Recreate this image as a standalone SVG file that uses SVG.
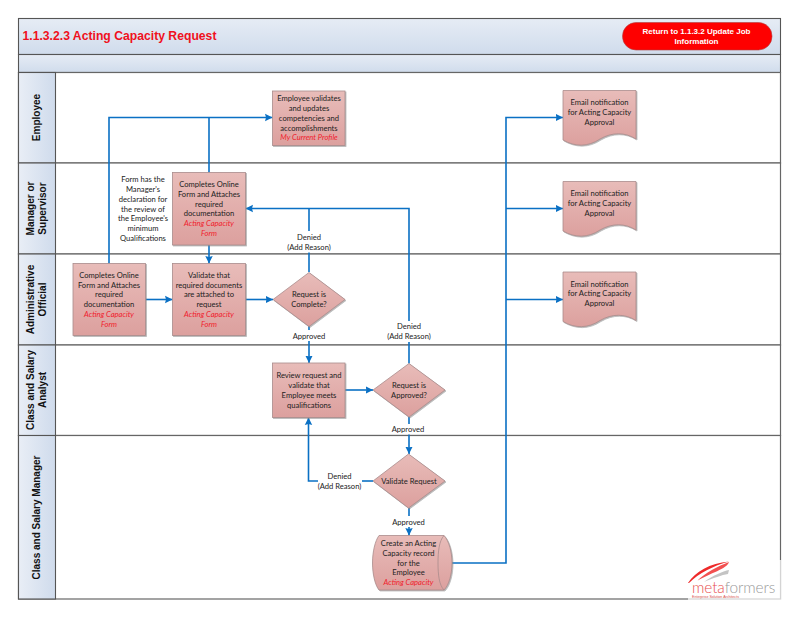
<svg xmlns="http://www.w3.org/2000/svg" width="800" height="618" viewBox="0 0 800 618">
<style>
.band{fill:url(#bandG);stroke:#555;stroke-width:1.1}
.hdr{fill:url(#hdrG);stroke:#555;stroke-width:1.1}
.lane{fill:#fff;stroke:#666;stroke-width:1.2}
.shape{fill:url(#nodeG);stroke:#a98c8c;stroke-width:.8;filter:url(#sh)}
.t{font:7.6px Lato,"Open Sans",sans-serif;fill:#222;text-anchor:middle}
.r{font:italic 7.6px Lato,"Open Sans",sans-serif;fill:#f01c2c;text-anchor:middle}
.lh{font:bold 10px "Liberation Sans",Arial,sans-serif;fill:#111;text-anchor:middle}
.c{fill:none;stroke:#0a70c4;stroke-width:1.6}
</style>
<defs>
<linearGradient id="bandG" x1="0" y1="0" x2="0" y2="1"><stop offset="0" stop-color="#e6ecf5"/><stop offset="1" stop-color="#d0dcec"/></linearGradient>
<linearGradient id="hdrG" x1="0" y1="0" x2="1" y2="0"><stop offset="0" stop-color="#e9eef6"/><stop offset="1" stop-color="#cfdbec"/></linearGradient>
<linearGradient id="nodeG" x1="0" y1="0" x2="0" y2="1"><stop offset="0" stop-color="#e8bcb9"/><stop offset="1" stop-color="#dca09e"/></linearGradient>
<filter id="sh" x="-10%" y="-10%" width="125%" height="125%"><feDropShadow dx="1" dy="1" stdDeviation=".6" flood-color="#888" flood-opacity=".6"/></filter>
<marker id="ah" markerUnits="userSpaceOnUse" markerWidth="9" markerHeight="9" refX="7.5" refY="4.5" orient="auto"><path d="M0 .8L7.5 4.5L0 8.2L1 4.5Z" fill="#0a70c4"/></marker>
</defs>
<rect width="800" height="618" fill="#fff"/>
<g id="frame">
<rect class="band" x="18.5" y="18.5" width="762" height="36"/>
<rect class="band" x="18.5" y="54.5" width="762" height="18"/>
<text x="22.5" y="40" style="font:bold 12.2px 'Liberation Sans',Arial,sans-serif;fill:#f01020">1.1.3.2.3 Acting Capacity Request</text>
</g>
<g id="lanes">
<rect class="lane" x="18.5" y="72.5" width="762" height="90.5"/>
<rect class="lane" x="18.5" y="163" width="762" height="91"/>
<rect class="lane" x="18.5" y="254" width="762" height="91"/>
<rect class="lane" x="18.5" y="345" width="762" height="90.5"/>
<rect class="lane" x="18.5" y="435.5" width="762" height="163.5"/>
<rect class="hdr" x="18.5" y="72.5" width="37" height="90.5"/>
<rect class="hdr" x="18.5" y="163" width="37" height="91"/>
<rect class="hdr" x="18.5" y="254" width="37" height="91"/>
<rect class="hdr" x="18.5" y="345" width="37" height="90.5"/>
<rect class="hdr" x="18.5" y="435.5" width="37" height="163.5"/>
<text class="lh" transform="translate(40 117.5) rotate(-90)">Employee</text>
<text class="lh" transform="translate(33.5 208.5) rotate(-90)">Manager or</text>
<text class="lh" transform="translate(45.5 208.5) rotate(-90)">Supervisor</text>
<text class="lh" transform="translate(33.5 299.5) rotate(-90)">Administrative</text>
<text class="lh" transform="translate(45.5 299.5) rotate(-90)">Official</text>
<text class="lh" transform="translate(33.5 390) rotate(-90)">Class and Salary</text>
<text class="lh" transform="translate(45.5 390) rotate(-90)">Analyst</text>
<text class="lh" transform="translate(40 517.5) rotate(-90)">Class and Salary Manager</text>
</g>
<g id="connectors">
<path class="c" d="M109 263.5V117.5H272.5" marker-end="url(#ah)"/>
<path class="c" d="M209 172.5V117.5"/>
<path class="c" d="M209 245V263.5" marker-end="url(#ah)"/>
<path class="c" d="M145.5 299.5H172.5" marker-end="url(#ah)"/>
<path class="c" d="M245.5 299.5H273" marker-end="url(#ah)"/>
<path class="c" d="M309 272V252.5"/>
<path class="c" d="M309 231V208.5"/>
<path class="c" d="M409 363.5V342"/>
<path class="c" d="M409 321V208.5H245.5" marker-end="url(#ah)"/>
<path class="c" d="M309 326V330"/>
<path class="c" d="M309 341V363" marker-end="url(#ah)"/>
<path class="c" d="M345 390H373" marker-end="url(#ah)"/>
<path class="c" d="M409 417V424"/>
<path class="c" d="M409 434.5V454" marker-end="url(#ah)"/>
<path class="c" d="M373 481H362"/>
<path class="c" d="M318 481H308.5V417.5" marker-end="url(#ah)"/>
<path class="c" d="M409 508V516"/>
<path class="c" d="M409 527V535.5" marker-end="url(#ah)"/>
<path class="c" d="M452 563H506V117.5H563" marker-end="url(#ah)"/>
<path class="c" d="M506 208.5H563" marker-end="url(#ah)"/>
<path class="c" d="M506 299.5H563" marker-end="url(#ah)"/>
</g>
<g id="return-button">
<rect x="622.5" y="22.5" width="149.5" height="27.5" rx="13.5" fill="#fe0000" stroke="#b04040" stroke-width=".6"/>
<text x="696.5" y="33.5" style="font:bold 8px 'Liberation Sans',Arial,sans-serif;fill:#fff;text-anchor:middle">Return to 1.1.3.2 Update Job</text>
<text x="696.5" y="43.5" style="font:bold 8px 'Liberation Sans',Arial,sans-serif;fill:#fff;text-anchor:middle">Information</text>
</g>
<g id="n-employee-validates">
<rect class="shape" x="272.5" y="91" width="72.5" height="54.5"/>
<text class="t" x="309" y="101">Employee validates</text>
<text class="t" x="309" y="111">and updates</text>
<text class="t" x="309" y="120.5">competencies and</text>
<text class="t" x="309" y="130.5">accomplishments</text>
<text class="r" x="309" y="140">My Current Profile</text>
</g>
<g id="n-form-note">
<text class="t" x="143" y="182">Form has the</text>
<text class="t" x="143" y="192">Manager's</text>
<text class="t" x="143" y="201.5">declaration for</text>
<text class="t" x="143" y="211.5">the  review of</text>
<text class="t" x="143" y="221">the Employee's</text>
<text class="t" x="143" y="231">minimum</text>
<text class="t" x="143" y="240.5">Qualifications</text>
</g>
<g id="n-manager-completes">
<rect class="shape" x="172.5" y="172.5" width="73" height="72.5"/>
<text class="t" x="209" y="187">Completes Online</text>
<text class="t" x="209" y="197">Form and Attaches</text>
<text class="t" x="209" y="206.5">required</text>
<text class="t" x="209" y="216">documentation</text>
<text class="r" x="209" y="226">Acting Capacity</text>
<text class="r" x="209" y="236">Form</text>
</g>
<g id="n-admin-completes">
<rect class="shape" x="73" y="263.5" width="72.5" height="72"/>
<text class="t" x="109" y="277.5">Completes Online</text>
<text class="t" x="109" y="287.5">Form and Attaches</text>
<text class="t" x="109" y="297">required</text>
<text class="t" x="109" y="307">documentation</text>
<text class="r" x="109" y="316.5">Acting Capacity</text>
<text class="r" x="109" y="326.5">Form</text>
</g>
<g id="n-validate-docs">
<rect class="shape" x="172.5" y="263.5" width="73" height="72"/>
<text class="t" x="209" y="277.5">Validate that</text>
<text class="t" x="209" y="287.5">required documents</text>
<text class="t" x="209" y="297">are attached to</text>
<text class="t" x="209" y="307">request</text>
<text class="r" x="209" y="316.5">Acting Capacity</text>
<text class="r" x="209" y="326.5">Form</text>
</g>
<g id="n-request-complete">
<path class="shape" d="M309 272.5L345 299.5L309 326.5L273 299.5Z"/>
<text class="t" x="309" y="297">Request is</text>
<text class="t" x="309" y="307">Complete?</text>
</g>
<g id="n-review">
<rect class="shape" x="272.5" y="363" width="72.5" height="54.5"/>
<text class="t" x="309" y="378">Review request and</text>
<text class="t" x="309" y="388">validate that</text>
<text class="t" x="309" y="398">Employee meets</text>
<text class="t" x="309" y="407.5">qualifications</text>
</g>
<g id="n-request-approved">
<path class="shape" d="M409 363.5L445 390L409 417L373 390Z"/>
<text class="t" x="409" y="388">Request is</text>
<text class="t" x="409" y="398">Approved?</text>
</g>
<g id="n-validate-request">
<path class="shape" d="M408.5 454L445 481L408.5 508L373 481Z"/>
<text class="t" x="409" y="483.5">Validate Request</text>
</g>
<g id="n-create-record">
<path class="shape" d="M379 535.5H444C449 541 452 552 452 563C452 574 449 585 444 590H379C375 585 372.5 574 372.5 563C372.5 552 375 541 379 535.5Z"/>
<path d="M444 535.5C439 541 438 552 438 563C438 574 439 585 444 590" fill="none" stroke="#a98c8c" stroke-width=".8"/>
<text class="t" x="408.5" y="546">Create an Acting</text>
<text class="t" x="408.5" y="555.5">Capacity record</text>
<text class="t" x="408.5" y="565.5">for the</text>
<text class="t" x="408.5" y="575">Employee</text>
<text class="r" x="408.5" y="585">Acting Capacity</text>
</g>
<g id="n-email-employee">
<path class="shape" d="M563 90.5H636V139C625 132 612 132 600 139C588 147 575 147 563 140Z"/>
<text class="t" x="599.5" y="105">Email notification</text>
<text class="t" x="599.5" y="114.5">for Acting Capacity</text>
<text class="t" x="599.5" y="124.5">Approval</text>
</g>
<g id="n-email-manager">
<path class="shape" d="M563 181.5H636V230C625 223 612 223 600 230C588 238 575 238 563 231Z"/>
<text class="t" x="599.5" y="196">Email notification</text>
<text class="t" x="599.5" y="205.5">for Acting Capacity</text>
<text class="t" x="599.5" y="215.5">Approval</text>
</g>
<g id="n-email-admin">
<path class="shape" d="M563 272H636V320.5C625 313.5 612 313.5 600 320.5C588 328.5 575 328.5 563 321.5Z"/>
<text class="t" x="599.5" y="286.5">Email notification</text>
<text class="t" x="599.5" y="296">for Acting Capacity</text>
<text class="t" x="599.5" y="306">Approval</text>
</g>
<g id="labels">
<text class="t" x="309" y="240">Denied</text>
<text class="t" x="309" y="250">(Add Reason)</text>
<text class="t" x="309" y="338.5">Approved</text>
<text class="t" x="409" y="329">Denied</text>
<text class="t" x="409" y="339">(Add Reason)</text>
<text class="t" x="408" y="431.5">Approved</text>
<text class="t" x="339.5" y="478.8">Denied</text>
<text class="t" x="339.5" y="488.5">(Add Reason)</text>
<text class="t" x="408.5" y="524.5">Approved</text>
</g>
<g id="logo">
<rect x="688" y="560" width="93.5" height="40.5" fill="#fff" fill-opacity=".72"/>
<path d="M688 583C695 572 710 563 729 561.5C713 566 699 573 689 583Z" fill="#ee2a2a"/>
<path d="M697 581C705 573 718 566 729 562C727 569 710 573 697 581Z" fill="#f25050"/>
<path d="M704 582C712 576 723 571 729 570L728 574C722 575 713 578 704 582Z" fill="#c4c4c4"/>
<text x="692" y="593" style="font:300 15.4px Lato,sans-serif;letter-spacing:-.1px"><tspan fill="#e8504f">meta</tspan><tspan fill="#9a9a9a">formers</tspan></text>
<text x="692" y="598.4" style="font:3.6px 'Liberation Sans',Arial,sans-serif;fill:#d84a4a">Enterprise Solution Architects</text>
</g>
</svg>
